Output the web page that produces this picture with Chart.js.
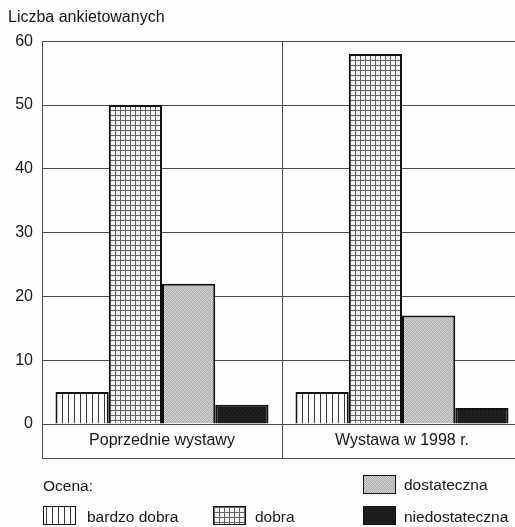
<!DOCTYPE html>
<html lang="pl">
<head>
    <meta charset="UTF-8">
    <title>Liczba ankietowanych</title>
    <script src="https://cdn.jsdelivr.net/npm/chart.js"></script>
    <style>
        html, body { margin: 0; padding: 0; background: #fdfdfd; overflow: hidden; }
        body { width: 515px; height: 527px; position: relative; font-family: "Liberation Sans", Arial, sans-serif; color: #161616; }
        canvas { display: block; }
        .legend { position: absolute; left: 0; top: 0; width: 515px; height: 527px; pointer-events: none; font-size: 15.5px; }
        .legend span { position: absolute; line-height: 18px; white-space: nowrap; }
        .legend .sw { position: absolute; width: 31px; height: 17px; border: 1.5px solid #111; }
        .ocena { left: 43px; top: 477px; }
        .it-0 .sw { left: 43px; top: 506px; }  .it-0 span { left: 87px; top: 508px; }
        .it-1 .sw { left: 213px; top: 506px; } .it-1 span { left: 255px; top: 508px; }
        .it-2 .sw { left: 363px; top: 475px; } .it-2 span { left: 404px; top: 476px; }
        .it-3 .sw { left: 363px; top: 506px; } .it-3 span { left: 404px; top: 508px; }
    </style>
</head>
<body>
<canvas id="chart" width="522" height="527"></canvas>
<div class="legend" id="legend"><span class="ocena">Ocena:</span></div>

<script>
    // dane
    const categories = ['Poprzednie wystawy', 'Wystawa w 1998 r.'];
    const ratings = ['bardzo dobra', 'dobra', 'dostateczna', 'niedostateczna'];
    const bardzoDobra = [5, 5];
    const dobra = [50, 58];
    const dostateczna = [22, 17];
    const niedostateczna = [3, 2.5];
    const yMax = 60;
    const yStep = 10;

    const FONT = '"Liberation Sans", Arial, sans-serif';

    // wzory wypelnienia (jak w druku czarno-bialym)
    function tile(w, h, draw) {
        const c = document.createElement('canvas');
        c.width = w; c.height = h;
        draw(c.getContext('2d'));
        return c;
    }
    const tiles = [
        tile(6, 6, g => { g.fillStyle = '#fbfbfb'; g.fillRect(0, 0, 6, 6); g.fillStyle = '#3a3a3a'; g.fillRect(2, 0, 1, 6); }),
        tile(5, 5, g => { g.fillStyle = '#f2f2f2'; g.fillRect(0, 0, 5, 5); g.fillStyle = '#626262'; g.fillRect(0, 0, 1, 5); g.fillRect(0, 0, 5, 1); }),
        tile(4, 4, g => {
            const px = ['#c9c9c9', '#a9a9a9', '#d8d8d8', '#b4b4b4',
                        '#b0b0b0', '#dcdcdc', '#a4a4a4', '#cfcfcf',
                        '#d6d6d6', '#b8b8b8', '#c4c4c4', '#a8a8a8',
                        '#a6a6a6', '#cdcdcd', '#b2b2b2', '#dadada'];
            px.forEach((c, i) => { g.fillStyle = c; g.fillRect(i % 4, Math.floor(i / 4), 1, 1); });
        }),
        tile(4, 4, g => {
            g.fillStyle = '#1c1c1c'; g.fillRect(0, 0, 4, 4);
            g.fillStyle = '#2e2e2e'; g.fillRect(1, 0, 1, 1); g.fillRect(3, 2, 1, 1);
            g.fillStyle = '#111'; g.fillRect(0, 3, 1, 1); g.fillRect(2, 1, 1, 1);
        })
    ];

    const ctx = document.getElementById('chart').getContext('2d');
    const fills = tiles.map(t => ctx.createPattern(t, 'repeat'));
    const series = [bardzoDobra, dobra, dostateczna, niedostateczna];

    // dolna krawedz ramki z opisami kategorii
    const frameLine = {
        id: 'frameLine',
        afterDraw(chart) {
            const x = chart.scales.x;
            const c = chart.ctx;
            c.save();
            c.strokeStyle = '#4a4a4a';
            c.lineWidth = 1;
            c.beginPath();
            c.moveTo(x.left, x.bottom - 0.5);
            c.lineTo(x.right, x.bottom - 0.5);
            c.stroke();
            c.restore();
        }
    };

    new Chart(ctx, {
        type: 'bar',
        data: {
            labels: categories,
            datasets: ratings.map((r, i) => ({
                label: r,
                data: series[i],
                backgroundColor: fills[i],
                borderColor: '#111',
                borderWidth: 2,
                categoryPercentage: 0.8875,
                barPercentage: 1.0
            }))
        },
        options: {
            responsive: false,
            animation: false,
            layout: { padding: { left: 8, right: 0, top: 0, bottom: 68 } },
            plugins: {
                legend: { display: false },
                tooltip: { enabled: false },
                title: {
                    display: true,
                    text: 'Liczba ankietowanych',
                    align: 'start',
                    color: '#161616',
                    font: { family: FONT, size: 16, weight: 'normal' },
                    padding: { top: 8, bottom: 14 }
                }
            },
            scales: {
                x: {
                    afterFit: s => { s.height = 35; },
                    grid: { offset: true, color: '#4a4a4a', lineWidth: 1, drawTicks: true, tickLength: 35 },
                    border: { color: '#4a4a4a', width: 1 },
                    ticks: {
                        color: '#161616',
                        padding: -28,
                        font: { family: FONT, size: 16 }
                    }
                },
                y: {
                    min: 0,
                    max: yMax,
                    afterFit: s => { s.width = 34; },
                    grid: { color: '#4a4a4a', lineWidth: 1, drawTicks: false },
                    border: { color: '#4a4a4a', width: 1 },
                    ticks: {
                        stepSize: yStep,
                        color: '#161616',
                        padding: 9,
                        font: { family: FONT, size: 16 }
                    }
                }
            }
        },
        plugins: [frameLine]
    });

    // legenda w HTML
    const legend = document.getElementById('legend');
    ratings.forEach((r, i) => {
        const item = document.createElement('div');
        item.className = 'it-' + i;
        const sw = document.createElement('div');
        sw.className = 'sw';
        sw.style.backgroundImage = 'url(' + tiles[i].toDataURL() + ')';
        const txt = document.createElement('span');
        txt.textContent = r;
        item.appendChild(sw);
        item.appendChild(txt);
        legend.appendChild(item);
    });
</script>
</body>
</html>
